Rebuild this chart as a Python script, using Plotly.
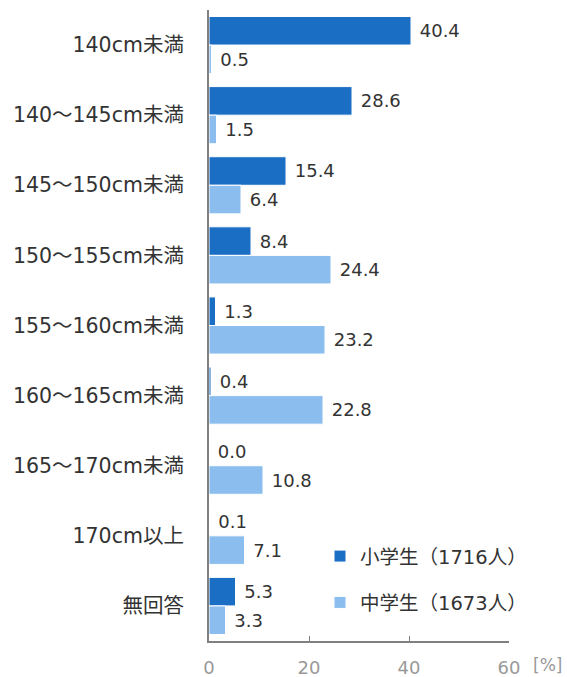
import plotly.graph_objects as go

categories = ["140cm未満", "140～145cm未満", "145～150cm未満", "150～155cm未満",
              "155～160cm未満", "160～165cm未満", "165～170cm未満", "170cm以上", "無回答"]
elementary = [40.4, 28.6, 15.4, 8.4, 1.3, 0.4, 0.0, 0.1, 5.3]
junior = [0.5, 1.5, 6.4, 24.4, 23.2, 22.8, 10.8, 7.1, 3.3]
series_names = ["小学生（1716人）", "中学生（1673人）"]
x_ticks = [0, 20, 40, 60]

FONT = "DejaVu Sans, Noto Sans CJK JP, sans-serif"
DARK = "#1a6ec3"
LIGHT = "#8bbdee"

fig = go.Figure()
for i, (name, vals, col) in enumerate([(series_names[0], elementary, DARK),
                                       (series_names[1], junior, LIGHT)]):
    fig.add_trace(go.Bar(
        y=categories, x=vals, name=name, orientation="h",
        legendgroup=f"g{i}",
        marker=dict(color=col, line=dict(color="white", width=1)),
        text=[f" {v:.1f}" for v in vals], textposition="outside",
        textfont=dict(size=18, color="#333333", family=FONT),
        cliponaxis=False,
    ))

fig.update_layout(
    width=567, height=677,
    margin=dict(l=209, r=58, t=10, b=36, autoexpand=False),
    paper_bgcolor="white", plot_bgcolor="white",
    barmode="group", bargap=0.185, bargroupgap=0,
    font=dict(family=FONT, size=20, color="#333333"),
    showlegend=True,
    legend=dict(x=0.37, y=0.165, xanchor="left", yanchor="top",
                font=dict(size=19.5, color="#333333", family=FONT),
                bgcolor="rgba(0,0,0,0)", itemwidth=30,
                traceorder="grouped", tracegroupgap=18),
)
fig.update_yaxes(autorange="reversed", showline=True, linecolor="#808080", linewidth=2,
                 ticks="", ticklabelstandoff=19, tickfont=dict(size=20.5, color="#333333"),
                 showgrid=False, automargin=False)
fig.update_xaxes(range=[0, 60], tickvals=x_ticks, showline=True, linecolor="#808080", linewidth=2,
                 ticks="inside", ticklen=5, tickcolor="#808080", tickwidth=1,
                 ticklabelstandoff=9, tickfont=dict(size=18, color="#999999"),
                 showgrid=False, zeroline=False, automargin=False)
fig.add_annotation(text="[%]", xref="paper", yref="paper", x=1.0, y=0, xanchor="left",
                   yanchor="middle", xshift=22, yshift=-24, showarrow=False,
                   font=dict(size=17, color="#999999", family=FONT))
fig.write_html("out.html", config={"displayModeBar": False},
               post_script="document.body.style.margin='0';document.body.style.overflow='hidden';")
